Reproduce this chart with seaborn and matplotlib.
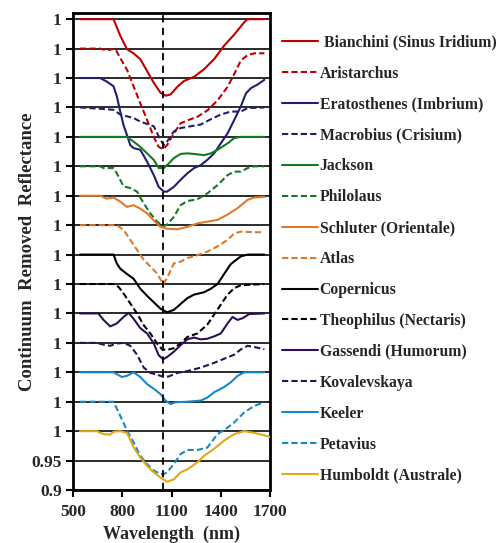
import matplotlib
matplotlib.use("Agg")
import matplotlib.pyplot as plt
import seaborn as sns

# continuum removed reflectance (each curve offset by 0.05 in the plot)
sites = ["Bianchini (Sinus Iridium)", "Aristarchus", "Eratosthenes (Imbrium)", "Macrobius (Crisium)",
         "Jackson", "Philolaus", "Schluter (Orientale)", "Atlas", "Copernicus", "Theophilus (Nectaris)",
         "Gassendi (Humorum)", "Kovalevskaya", "Keeler", "Petavius", "Humboldt (Australe)"]

bianchini_wl = [543, 747, 788, 829, 869, 910, 951, 992, 1033, 1063, 1094, 1135, 1176, 1237, 1298, 1359, 1420, 1482, 1543, 1563, 1665]
bianchini_r = [1.0, 1.0, 0.972, 0.949, 0.942, 0.932, 0.912, 0.892, 0.875, 0.870, 0.872, 0.885, 0.895, 0.902, 0.915, 0.932, 0.955, 0.974, 0.995, 1.0, 1.0]

aristarchus_wl = [543, 665, 706, 757, 788, 829, 869, 910, 951, 992, 1022, 1049, 1073, 1114, 1155, 1196, 1257, 1318, 1380, 1441, 1482, 1522, 1563, 1604, 1665]
aristarchus_r = [1.0, 1.0, 0.997, 1.0, 0.984, 0.964, 0.936, 0.907, 0.879, 0.850, 0.833, 0.829, 0.836, 0.856, 0.873, 0.878, 0.884, 0.895, 0.912, 0.935, 0.957, 0.980, 0.989, 0.992, 0.992]

eratosthenes_wl = [543, 665, 706, 747, 767, 788, 808, 829, 849, 869, 910, 951, 992, 1022, 1053, 1073, 1114, 1155, 1196, 1237, 1278, 1318, 1359, 1400, 1441, 1482, 1522, 1553, 1584, 1624, 1665]
eratosthenes_r = [1.0, 1.0, 0.994, 0.986, 0.969, 0.943, 0.920, 0.903, 0.886, 0.881, 0.878, 0.858, 0.835, 0.815, 0.807, 0.807, 0.815, 0.827, 0.838, 0.847, 0.852, 0.861, 0.872, 0.889, 0.906, 0.929, 0.952, 0.974, 0.983, 0.989, 0.997]

macrobius_wl = [543, 706, 747, 788, 869, 910, 992, 1033, 1053, 1073, 1114, 1155, 1216, 1278, 1339, 1400, 1461, 1522, 1563, 1665]
macrobius_r = [1.0, 0.997, 0.996, 0.988, 0.982, 0.976, 0.968, 0.945, 0.936, 0.942, 0.959, 0.965, 0.968, 0.971, 0.980, 0.988, 0.993, 0.993, 0.999, 1.0]

jackson_wl = [543, 829, 869, 910, 951, 992, 1022, 1053, 1084, 1114, 1155, 1196, 1237, 1298, 1339, 1380, 1441, 1482, 1522, 1665]
jackson_r = [1.0, 1.0, 0.992, 0.983, 0.972, 0.961, 0.947, 0.947, 0.955, 0.964, 0.971, 0.972, 0.971, 0.969, 0.972, 0.978, 0.989, 0.998, 1.0, 1.0]

philolaus_wl = [543, 665, 686, 747, 767, 808, 849, 890, 931, 971, 1012, 1049, 1073, 1114, 1155, 1196, 1257, 1318, 1380, 1441, 1482, 1522, 1563, 1604, 1665]
philolaus_r = [1.0, 1.0, 0.997, 0.997, 0.988, 0.966, 0.963, 0.957, 0.937, 0.920, 0.906, 0.898, 0.901, 0.914, 0.934, 0.941, 0.944, 0.954, 0.968, 0.985, 0.991, 0.991, 0.997, 1.0, 1.0]

schluter_wl = [543, 665, 706, 747, 788, 829, 869, 910, 951, 992, 1033, 1073, 1135, 1196, 1257, 1318, 1380, 1441, 1502, 1563, 1604, 1665]
schluter_r = [1.0, 1.0, 0.995, 0.997, 0.990, 0.981, 0.984, 0.978, 0.970, 0.958, 0.947, 0.944, 0.943, 0.947, 0.953, 0.956, 0.959, 0.968, 0.979, 0.993, 0.997, 0.998]

atlas_wl = [543, 767, 808, 849, 890, 931, 971, 1012, 1049, 1073, 1114, 1155, 1196, 1257, 1318, 1380, 1441, 1482, 1522, 1604, 1645]
atlas_r = [1.0, 1.0, 0.992, 0.975, 0.958, 0.941, 0.930, 0.918, 0.900, 0.910, 0.935, 0.938, 0.944, 0.949, 0.955, 0.964, 0.975, 0.986, 0.989, 0.988, 0.988]

copernicus_wl = [543, 747, 767, 788, 829, 869, 910, 951, 992, 1033, 1073, 1114, 1155, 1196, 1237, 1298, 1339, 1380, 1420, 1461, 1522, 1563, 1665]
copernicus_r = [1.0, 1.0, 0.985, 0.976, 0.967, 0.959, 0.942, 0.930, 0.919, 0.908, 0.902, 0.906, 0.916, 0.926, 0.932, 0.936, 0.942, 0.950, 0.967, 0.984, 0.997, 1.0, 1.0]

theophilus_wl = [543, 747, 778, 808, 849, 890, 931, 971, 1012, 1043, 1073, 1114, 1155, 1196, 1257, 1318, 1359, 1400, 1441, 1482, 1522, 1665]
theophilus_r = [1.0, 1.0, 0.995, 0.984, 0.967, 0.950, 0.930, 0.916, 0.899, 0.889, 0.888, 0.891, 0.899, 0.910, 0.916, 0.931, 0.948, 0.965, 0.982, 0.993, 0.998, 1.0]

gassendi_wl = [543, 655, 686, 727, 767, 808, 839, 869, 910, 951, 992, 1022, 1049, 1073, 1114, 1155, 1196, 1237, 1278, 1318, 1359, 1400, 1441, 1471, 1502, 1533, 1573, 1665]
gassendi_r = [1.0, 1.0, 0.989, 0.978, 0.983, 0.994, 1.001, 0.991, 0.975, 0.966, 0.949, 0.929, 0.922, 0.926, 0.935, 0.946, 0.956, 0.959, 0.956, 0.957, 0.961, 0.966, 0.983, 0.994, 0.989, 0.992, 0.999, 1.0]

kovalevskaya_wl = [543, 645, 686, 727, 767, 808, 849, 890, 931, 971, 1012, 1053, 1084, 1135, 1196, 1278, 1359, 1420, 1482, 1522, 1563, 1604, 1665]
kovalevskaya_r = [1.0, 1.0, 0.997, 0.995, 0.999, 1.0, 0.995, 0.980, 0.958, 0.949, 0.946, 0.942, 0.943, 0.949, 0.952, 0.958, 0.966, 0.973, 0.980, 0.989, 0.995, 0.993, 0.989]

keeler_wl = [543, 747, 798, 829, 869, 910, 951, 992, 1033, 1063, 1094, 1124, 1196, 1278, 1318, 1359, 1420, 1461, 1502, 1543, 1665]
keeler_r = [1.0, 1.0, 0.992, 0.994, 1.0, 0.992, 0.980, 0.972, 0.963, 0.952, 0.946, 0.949, 0.950, 0.952, 0.957, 0.966, 0.975, 0.983, 0.994, 1.0, 1.0]

petavius_wl = [543, 747, 788, 829, 869, 910, 951, 992, 1033, 1053, 1073, 1114, 1155, 1196, 1257, 1318, 1380, 1441, 1482, 1543, 1604, 1665]
petavius_r = [1.0, 1.0, 0.976, 0.951, 0.931, 0.908, 0.894, 0.883, 0.877, 0.877, 0.880, 0.894, 0.911, 0.918, 0.918, 0.922, 0.945, 0.956, 0.965, 0.982, 0.993, 0.999]

humboldt_wl = [543, 645, 686, 727, 747, 788, 829, 869, 910, 951, 992, 1033, 1073, 1114, 1155, 1196, 1257, 1298, 1359, 1420, 1482, 1543, 1604, 1665, 1700]
humboldt_r = [1.0, 1.0, 0.995, 0.994, 0.999, 1.0, 0.997, 0.973, 0.955, 0.941, 0.930, 0.921, 0.914, 0.918, 0.930, 0.935, 0.947, 0.958, 0.970, 0.984, 0.995, 1.0, 0.997, 0.993, 0.990]

wavelengths = [bianchini_wl, aristarchus_wl, eratosthenes_wl, macrobius_wl, jackson_wl, philolaus_wl,
               schluter_wl, atlas_wl, copernicus_wl, theophilus_wl, gassendi_wl, kovalevskaya_wl,
               keeler_wl, petavius_wl, humboldt_wl]
reflectance = [bianchini_r, aristarchus_r, eratosthenes_r, macrobius_r, jackson_r, philolaus_r,
               schluter_r, atlas_r, copernicus_r, theophilus_r, gassendi_r, kovalevskaya_r,
               keeler_r, petavius_r, humboldt_r]

colors = ["#c00000", "#c00000", "#1f1f70", "#1f1f70", "#137a22", "#137a22", "#e07a2a", "#e07a2a",
          "#000000", "#000000", "#2e1058", "#2e1058", "#168ac8", "#168ac8", "#e2a818"]
dashed = [False, True] * 7 + [False]

yticks = [0.9 + 0.05 * i for i in range(17)]
ytick_labels = ["0.9", "0.95"] + ["1"] * 15
xticks = [500, 800, 1100, 1400, 1700]
band_center = 1050

sns.set_style("white")
plt.rcParams["font.family"] = ["Liberation Serif", "DejaVu Serif"]
plt.rcParams["font.weight"] = "bold"

fig = plt.figure(figsize=(5.03, 5.43), dpi=100)
ax = fig.add_axes([0.145, 0.0976, 0.392, 0.879])

for y in yticks:
    ax.axhline(y, color="#1a1a1a", lw=1.3, zorder=1)

n = len(sites)
for i in range(n):
    offset = 0.05 * (n - 1 - i)
    ys = [r + offset for r in reflectance[i]]
    ls = (0, (3, 1.5)) if dashed[i] else "-"
    sns.lineplot(x=wavelengths[i], y=ys, ax=ax, color=colors[i], lw=1.5, linestyle=ls,
                 label=(" " + sites[i]) if i == 0 else sites[i], zorder=3, legend=False)

ax.axvline(band_center, color="black", lw=1.3, linestyle=(0, (4, 3)), zorder=4)

ax.set_xlim(500, 1700)
ax.set_ylim(0.9, 1.711)
ax.set_xticks(xticks)
ax.set_yticks(yticks)
ax.set_yticklabels(ytick_labels)
ax.tick_params(axis="both", direction="out", length=5, width=1.5, labelsize=12.5, pad=3,
               left=True, bottom=True, color="black")
ax.tick_params(axis="x", pad=5)
for lab in ax.get_xticklabels() + ax.get_yticklabels():
    lab.set_fontweight("bold")
for sp in ax.spines.values():
    sp.set_color("black")
    sp.set_linewidth(2)

ax.set_xlabel("Wavelength  (nm)", fontsize=13, fontweight="bold", labelpad=4)
ax.set_ylabel("Continuum  Removed  Reflectance", fontsize=13.5, fontweight="bold")
ax.yaxis.set_label_coords(-0.185, 0.5)

handles, labels = ax.get_legend_handles_labels()
fig.legend(handles, labels, loc="upper left", bbox_to_anchor=(0.532, 0.962), frameon=False,
           handlelength=2.3, handletextpad=0.12, labelspacing=0.95,
           prop={"family": "Liberation Serif", "weight": "bold", "size": 11.3})

fig.savefig("out.png", dpi=100)
